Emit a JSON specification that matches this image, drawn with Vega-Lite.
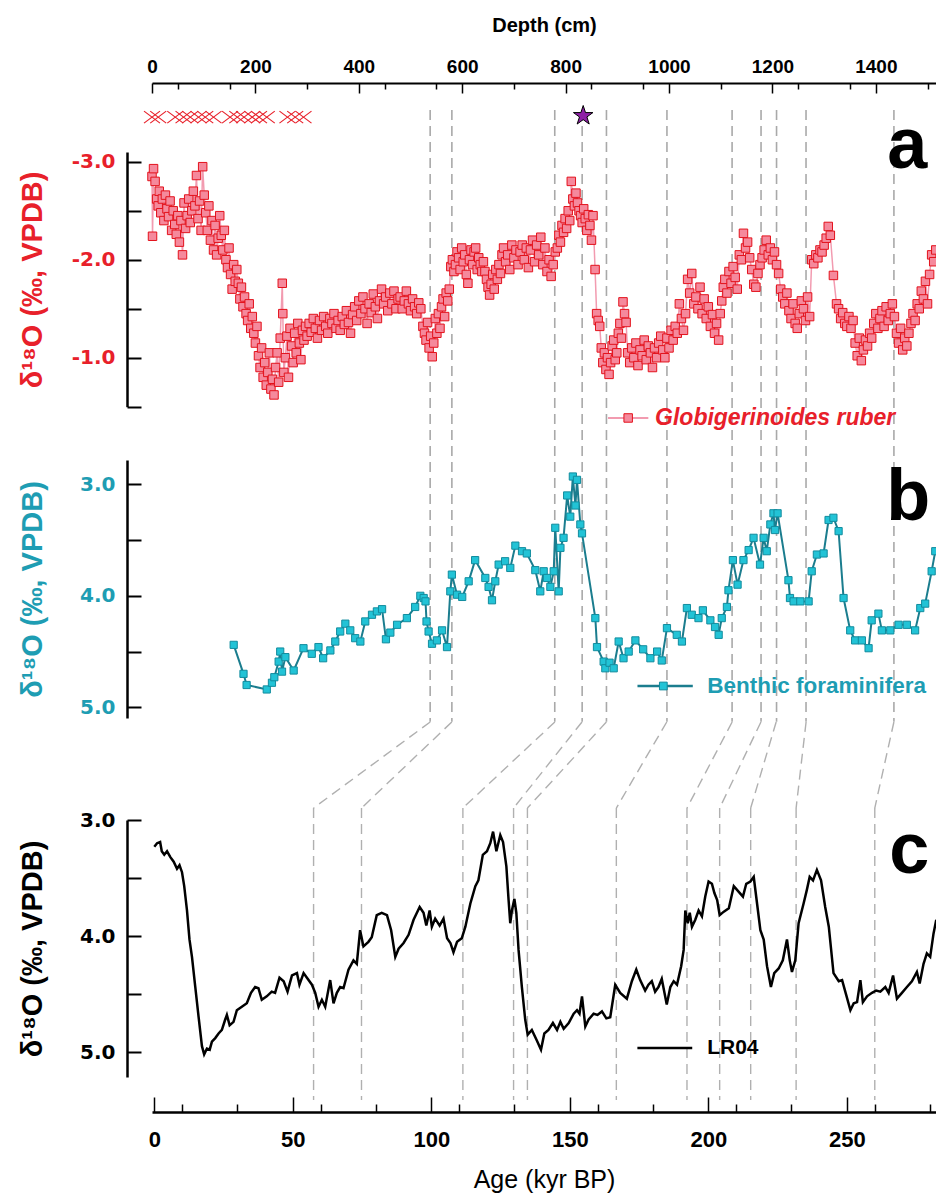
{
  "$schema": "https://vega.github.io/schema/vega-lite/v6.json",
  "width": 784,
  "height": 1029,
  "autosize": {"type": "none"},
  "padding": {"left": 152, "top": 83, "right": 0, "bottom": 81},
  "background": "white",
  "config": {"view": {"stroke": null}, "font": "Liberation Sans", "axis": {"grid": false, "labelOverlap": false, "labelBound": false, "labelFlush": false}},
  "datasets": {
    "ruber": [
      {"depth":0,"d18O":-2.85},{"depth":1,"d18O":-2.24},{"depth":3,"d18O":-2.93},{"depth":6,"d18O":-2.80},{"depth":9,"d18O":-2.62},{"depth":12,"d18O":-2.55},{"depth":14,"d18O":-2.70},{"depth":17,"d18O":-2.48},{"depth":20,"d18O":-2.62},{"depth":23,"d18O":-2.40},{"depth":26,"d18O":-2.66},{"depth":29,"d18O":-2.52},{"depth":32,"d18O":-2.44},{"depth":35,"d18O":-2.60},{"depth":38,"d18O":-2.30},{"depth":41,"d18O":-2.50},{"depth":44,"d18O":-2.36},{"depth":47,"d18O":-2.26},{"depth":50,"d18O":-2.45},{"depth":53,"d18O":-2.18},{"depth":56,"d18O":-2.40},{"depth":59,"d18O":-2.05},{"depth":62,"d18O":-2.58},{"depth":65,"d18O":-2.32},{"depth":68,"d18O":-2.45},{"depth":71,"d18O":-2.62},{"depth":74,"d18O":-2.38},{"depth":77,"d18O":-2.50},{"depth":80,"d18O":-2.70},{"depth":83,"d18O":-2.55},{"depth":86,"d18O":-2.86},{"depth":89,"d18O":-2.42},{"depth":92,"d18O":-2.60},{"depth":95,"d18O":-2.30},{"depth":98,"d18O":-2.95},{"depth":101,"d18O":-2.66},{"depth":104,"d18O":-2.48},{"depth":107,"d18O":-2.30},{"depth":110,"d18O":-2.55},{"depth":113,"d18O":-2.20},{"depth":116,"d18O":-2.40},{"depth":119,"d18O":-2.10},{"depth":122,"d18O":-2.35},{"depth":125,"d18O":-2.05},{"depth":128,"d18O":-2.22},{"depth":131,"d18O":-2.45},{"depth":134,"d18O":-2.25},{"depth":137,"d18O":-2.10},{"depth":140,"d18O":-2.30},{"depth":143,"d18O":-2.00},{"depth":146,"d18O":-1.92},{"depth":149,"d18O":-2.12},{"depth":152,"d18O":-1.85},{"depth":155,"d18O":-1.70},{"depth":158,"d18O":-1.95},{"depth":161,"d18O":-1.78},{"depth":164,"d18O":-1.90},{"depth":167,"d18O":-1.76},{"depth":170,"d18O":-1.60},{"depth":173,"d18O":-1.72},{"depth":176,"d18O":-1.52},{"depth":179,"d18O":-1.62},{"depth":182,"d18O":-1.45},{"depth":185,"d18O":-1.38},{"depth":188,"d18O":-1.55},{"depth":191,"d18O":-1.30},{"depth":194,"d18O":-1.42},{"depth":197,"d18O":-1.25},{"depth":200,"d18O":-1.15},{"depth":203,"d18O":-1.32},{"depth":206,"d18O":-1.02},{"depth":209,"d18O":-0.90},{"depth":212,"d18O":-1.10},{"depth":215,"d18O":-0.80},{"depth":218,"d18O":-0.95},{"depth":221,"d18O":-0.72},{"depth":224,"d18O":-0.85},{"depth":227,"d18O":-1.05},{"depth":230,"d18O":-0.68},{"depth":233,"d18O":-0.78},{"depth":236,"d18O":-0.62},{"depth":239,"d18O":-0.90},{"depth":242,"d18O":-1.05},{"depth":245,"d18O":-0.75},{"depth":248,"d18O":-1.20},{"depth":252,"d18O":-1.76},{"depth":253,"d18O":-1.45},{"depth":255,"d18O":-0.85},{"depth":258,"d18O":-1.00},{"depth":261,"d18O":-1.22},{"depth":264,"d18O":-0.80},{"depth":267,"d18O":-1.30},{"depth":270,"d18O":-1.12},{"depth":273,"d18O":-0.95},{"depth":276,"d18O":-1.25},{"depth":279,"d18O":-1.05},{"depth":282,"d18O":-1.35},{"depth":285,"d18O":-1.15},{"depth":288,"d18O":-0.98},{"depth":291,"d18O":-1.28},{"depth":294,"d18O":-1.18},{"depth":297,"d18O":-1.32},{"depth":300,"d18O":-1.22},{"depth":304,"d18O":-1.35},{"depth":308,"d18O":-1.26},{"depth":312,"d18O":-1.40},{"depth":316,"d18O":-1.30},{"depth":320,"d18O":-1.20},{"depth":324,"d18O":-1.38},{"depth":328,"d18O":-1.28},{"depth":332,"d18O":-1.42},{"depth":336,"d18O":-1.32},{"depth":340,"d18O":-1.25},{"depth":344,"d18O":-1.40},{"depth":348,"d18O":-1.35},{"depth":352,"d18O":-1.45},{"depth":356,"d18O":-1.30},{"depth":360,"d18O":-1.38},{"depth":364,"d18O":-1.28},{"depth":368,"d18O":-1.42},{"depth":372,"d18O":-1.34},{"depth":376,"d18O":-1.48},{"depth":380,"d18O":-1.36},{"depth":384,"d18O":-1.25},{"depth":388,"d18O":-1.44},{"depth":392,"d18O":-1.52},{"depth":396,"d18O":-1.38},{"depth":400,"d18O":-1.58},{"depth":404,"d18O":-1.45},{"depth":408,"d18O":-1.62},{"depth":412,"d18O":-1.50},{"depth":416,"d18O":-1.35},{"depth":420,"d18O":-1.55},{"depth":424,"d18O":-1.46},{"depth":428,"d18O":-1.65},{"depth":432,"d18O":-1.52},{"depth":436,"d18O":-1.40},{"depth":440,"d18O":-1.58},{"depth":444,"d18O":-1.70},{"depth":448,"d18O":-1.55},{"depth":452,"d18O":-1.62},{"depth":456,"d18O":-1.48},{"depth":460,"d18O":-1.66},{"depth":464,"d18O":-1.55},{"depth":468,"d18O":-1.68},{"depth":472,"d18O":-1.50},{"depth":476,"d18O":-1.60},{"depth":480,"d18O":-1.62},{"depth":484,"d18O":-1.50},{"depth":488,"d18O":-1.58},{"depth":492,"d18O":-1.68},{"depth":496,"d18O":-1.55},{"depth":500,"d18O":-1.48},{"depth":504,"d18O":-1.60},{"depth":508,"d18O":-1.52},{"depth":512,"d18O":-1.45},{"depth":516,"d18O":-1.56},{"depth":520,"d18O":-1.50},{"depth":524,"d18O":-1.32},{"depth":527,"d18O":-1.25},{"depth":530,"d18O":-1.18},{"depth":533,"d18O":-1.36},{"depth":536,"d18O":-1.10},{"depth":539,"d18O":-1.22},{"depth":542,"d18O":-1.01},{"depth":545,"d18O":-1.15},{"depth":548,"d18O":-1.40},{"depth":551,"d18O":-1.25},{"depth":554,"d18O":-1.45},{"depth":557,"d18O":-1.30},{"depth":560,"d18O":-1.52},{"depth":563,"d18O":-1.60},{"depth":566,"d18O":-1.42},{"depth":569,"d18O":-1.66},{"depth":572,"d18O":-1.58},{"depth":575,"d18O":-1.70},{"depth":578,"d18O":-1.93},{"depth":581,"d18O":-2.00},{"depth":584,"d18O":-1.88},{"depth":587,"d18O":-1.95},{"depth":590,"d18O":-2.08},{"depth":593,"d18O":-2.02},{"depth":596,"d18O":-1.90},{"depth":599,"d18O":-2.12},{"depth":602,"d18O":-1.98},{"depth":605,"d18O":-2.05},{"depth":608,"d18O":-1.85},{"depth":611,"d18O":-1.76},{"depth":614,"d18O":-2.00},{"depth":617,"d18O":-2.10},{"depth":620,"d18O":-1.95},{"depth":623,"d18O":-2.08},{"depth":626,"d18O":-2.12},{"depth":629,"d18O":-1.90},{"depth":632,"d18O":-2.02},{"depth":635,"d18O":-1.95},{"depth":638,"d18O":-1.88},{"depth":641,"d18O":-1.98},{"depth":644,"d18O":-1.88},{"depth":647,"d18O":-1.80},{"depth":650,"d18O":-1.72},{"depth":653,"d18O":-1.64},{"depth":656,"d18O":-1.75},{"depth":659,"d18O":-1.85},{"depth":662,"d18O":-1.70},{"depth":665,"d18O":-1.90},{"depth":668,"d18O":-1.80},{"depth":671,"d18O":-1.95},{"depth":674,"d18O":-1.86},{"depth":677,"d18O":-2.05},{"depth":680,"d18O":-2.12},{"depth":684,"d18O":-1.98},{"depth":688,"d18O":-2.05},{"depth":692,"d18O":-1.90},{"depth":696,"d18O":-2.15},{"depth":700,"d18O":-2.02},{"depth":704,"d18O":-2.10},{"depth":708,"d18O":-1.95},{"depth":712,"d18O":-2.08},{"depth":716,"d18O":-2.15},{"depth":720,"d18O":-2.00},{"depth":724,"d18O":-2.12},{"depth":728,"d18O":-1.92},{"depth":732,"d18O":-2.10},{"depth":736,"d18O":-2.20},{"depth":740,"d18O":-1.98},{"depth":744,"d18O":-2.15},{"depth":748,"d18O":-2.05},{"depth":752,"d18O":-2.23},{"depth":756,"d18O":-1.95},{"depth":760,"d18O":-2.12},{"depth":764,"d18O":-1.88},{"depth":768,"d18O":-2.00},{"depth":772,"d18O":-1.83},{"depth":776,"d18O":-1.95},{"depth":780,"d18O":-2.08},{"depth":784,"d18O":-2.12},{"depth":787,"d18O":-2.25},{"depth":790,"d18O":-2.18},{"depth":793,"d18O":-2.35},{"depth":796,"d18O":-2.28},{"depth":799,"d18O":-2.42},{"depth":802,"d18O":-2.32},{"depth":805,"d18O":-2.50},{"depth":808,"d18O":-2.40},{"depth":811,"d18O":-2.80},{"depth":814,"d18O":-2.62},{"depth":817,"d18O":-2.55},{"depth":820,"d18O":-2.68},{"depth":823,"d18O":-2.58},{"depth":826,"d18O":-2.50},{"depth":829,"d18O":-2.45},{"depth":832,"d18O":-2.38},{"depth":835,"d18O":-2.52},{"depth":838,"d18O":-2.42},{"depth":841,"d18O":-2.30},{"depth":844,"d18O":-2.46},{"depth":847,"d18O":-2.35},{"depth":850,"d18O":-2.20},{"depth":853,"d18O":-2.45},{"depth":857,"d18O":-1.90},{"depth":860,"d18O":-1.45},{"depth":863,"d18O":-1.38},{"depth":866,"d18O":-1.32},{"depth":869,"d18O":-1.10},{"depth":872,"d18O":-0.95},{"depth":875,"d18O":-1.05},{"depth":878,"d18O":-0.88},{"depth":881,"d18O":-1.00},{"depth":884,"d18O":-0.83},{"depth":887,"d18O":-0.95},{"depth":890,"d18O":-1.12},{"depth":893,"d18O":-1.18},{"depth":896,"d18O":-0.98},{"depth":899,"d18O":-1.05},{"depth":902,"d18O":-1.25},{"depth":905,"d18O":-1.35},{"depth":908,"d18O":-1.20},{"depth":911,"d18O":-1.57},{"depth":914,"d18O":-1.45},{"depth":917,"d18O":-1.36},{"depth":920,"d18O":-1.05},{"depth":924,"d18O":-0.95},{"depth":928,"d18O":-1.10},{"depth":932,"d18O":-1.00},{"depth":936,"d18O":-1.15},{"depth":940,"d18O":-0.92},{"depth":944,"d18O":-1.08},{"depth":948,"d18O":-1.02},{"depth":952,"d18O":-1.18},{"depth":956,"d18O":-0.98},{"depth":960,"d18O":-1.12},{"depth":964,"d18O":-1.05},{"depth":968,"d18O":-0.90},{"depth":972,"d18O":-1.10},{"depth":976,"d18O":-1.00},{"depth":980,"d18O":-1.15},{"depth":984,"d18O":-1.22},{"depth":988,"d18O":-1.08},{"depth":992,"d18O":-1.00},{"depth":996,"d18O":-1.20},{"depth":1000,"d18O":-1.10},{"depth":1004,"d18O":-1.28},{"depth":1008,"d18O":-1.18},{"depth":1012,"d18O":-1.32},{"depth":1016,"d18O":-1.25},{"depth":1020,"d18O":-1.55},{"depth":1024,"d18O":-1.40},{"depth":1028,"d18O":-1.28},{"depth":1032,"d18O":-1.45},{"depth":1036,"d18O":-1.80},{"depth":1040,"d18O":-1.66},{"depth":1044,"d18O":-1.86},{"depth":1048,"d18O":-1.55},{"depth":1052,"d18O":-1.62},{"depth":1056,"d18O":-1.50},{"depth":1060,"d18O":-1.72},{"depth":1064,"d18O":-1.45},{"depth":1068,"d18O":-1.60},{"depth":1072,"d18O":-1.40},{"depth":1076,"d18O":-1.52},{"depth":1080,"d18O":-1.32},{"depth":1084,"d18O":-1.44},{"depth":1088,"d18O":-1.25},{"depth":1092,"d18O":-1.35},{"depth":1096,"d18O":-1.18},{"depth":1099,"d18O":-1.45},{"depth":1102,"d18O":-1.58},{"depth":1105,"d18O":-1.72},{"depth":1108,"d18O":-1.80},{"depth":1112,"d18O":-1.66},{"depth":1116,"d18O":-1.88},{"depth":1120,"d18O":-1.76},{"depth":1124,"d18O":-1.93},{"depth":1128,"d18O":-1.82},{"depth":1132,"d18O":-1.70},{"depth":1136,"d18O":-2.05},{"depth":1140,"d18O":-2.00},{"depth":1144,"d18O":-2.27},{"depth":1148,"d18O":-2.12},{"depth":1152,"d18O":-2.18},{"depth":1156,"d18O":-2.02},{"depth":1160,"d18O":-1.90},{"depth":1164,"d18O":-1.75},{"depth":1168,"d18O":-1.72},{"depth":1172,"d18O":-1.86},{"depth":1176,"d18O":-1.95},{"depth":1180,"d18O":-2.02},{"depth":1184,"d18O":-2.10},{"depth":1188,"d18O":-2.20},{"depth":1192,"d18O":-2.05},{"depth":1196,"d18O":-2.12},{"depth":1200,"d18O":-2.00},{"depth":1204,"d18O":-2.08},{"depth":1208,"d18O":-1.95},{"depth":1212,"d18O":-1.86},{"depth":1216,"d18O":-1.70},{"depth":1220,"d18O":-1.62},{"depth":1224,"d18O":-1.55},{"depth":1228,"d18O":-1.66},{"depth":1232,"d18O":-1.48},{"depth":1236,"d18O":-1.40},{"depth":1240,"d18O":-1.55},{"depth":1244,"d18O":-1.35},{"depth":1248,"d18O":-1.30},{"depth":1252,"d18O":-1.45},{"depth":1256,"d18O":-1.58},{"depth":1260,"d18O":-1.50},{"depth":1264,"d18O":-1.38},{"depth":1268,"d18O":-1.62},{"depth":1272,"d18O":-1.42},{"depth":1276,"d18O":-2.00},{"depth":1280,"d18O":-1.96},{"depth":1284,"d18O":-2.05},{"depth":1288,"d18O":-2.02},{"depth":1292,"d18O":-2.10},{"depth":1296,"d18O":-2.08},{"depth":1300,"d18O":-2.15},{"depth":1304,"d18O":-2.22},{"depth":1308,"d18O":-2.34},{"depth":1312,"d18O":-2.25},{"depth":1318,"d18O":-1.84},{"depth":1324,"d18O":-1.55},{"depth":1328,"d18O":-1.50},{"depth":1332,"d18O":-1.40},{"depth":1336,"d18O":-1.46},{"depth":1340,"d18O":-1.35},{"depth":1344,"d18O":-1.32},{"depth":1348,"d18O":-1.42},{"depth":1352,"d18O":-1.30},{"depth":1356,"d18O":-1.38},{"depth":1360,"d18O":-1.15},{"depth":1364,"d18O":-1.02},{"depth":1368,"d18O":-1.20},{"depth":1372,"d18O":-0.97},{"depth":1376,"d18O":-1.08},{"depth":1380,"d18O":-1.18},{"depth":1384,"d18O":-1.12},{"depth":1388,"d18O":-1.25},{"depth":1392,"d18O":-1.20},{"depth":1396,"d18O":-1.35},{"depth":1400,"d18O":-1.45},{"depth":1404,"d18O":-1.30},{"depth":1408,"d18O":-1.40},{"depth":1412,"d18O":-1.48},{"depth":1416,"d18O":-1.32},{"depth":1420,"d18O":-1.52},{"depth":1424,"d18O":-1.38},{"depth":1428,"d18O":-1.45},{"depth":1432,"d18O":-1.55},{"depth":1436,"d18O":-1.42},{"depth":1440,"d18O":-1.25},{"depth":1444,"d18O":-1.15},{"depth":1448,"d18O":-1.30},{"depth":1452,"d18O":-1.08},{"depth":1456,"d18O":-1.20},{"depth":1460,"d18O":-1.12},{"depth":1464,"d18O":-1.25},{"depth":1468,"d18O":-1.35},{"depth":1472,"d18O":-1.45},{"depth":1476,"d18O":-1.38},{"depth":1480,"d18O":-1.55},{"depth":1484,"d18O":-1.50},{"depth":1488,"d18O":-1.68},{"depth":1492,"d18O":-1.60},{"depth":1496,"d18O":-1.78},{"depth":1500,"d18O":-1.55},{"depth":1504,"d18O":-1.85},{"depth":1508,"d18O":-2.05},{"depth":1512,"d18O":-1.98},{"depth":1516,"d18O":-2.10}
    ],
    "benthic": [
      {"depth":158,"d18O":4.44},{"depth":177,"d18O":4.70},{"depth":183,"d18O":4.80},{"depth":222,"d18O":4.84},{"depth":232,"d18O":4.78},{"depth":236.6,"d18O":4.73},{"depth":245,"d18O":4.59},{"depth":248,"d18O":4.50},{"depth":251.5,"d18O":4.68},{"depth":258,"d18O":4.55},{"depth":274,"d18O":4.67},{"depth":293,"d18O":4.47},{"depth":309,"d18O":4.52},{"depth":322,"d18O":4.46},{"depth":331,"d18O":4.56},{"depth":345,"d18O":4.49},{"depth":354.5,"d18O":4.41},{"depth":364,"d18O":4.32},{"depth":374,"d18O":4.25},{"depth":383.5,"d18O":4.31},{"depth":393,"d18O":4.38},{"depth":403,"d18O":4.41},{"depth":412.5,"d18O":4.23},{"depth":425.5,"d18O":4.17},{"depth":435,"d18O":4.14},{"depth":445,"d18O":4.12},{"depth":452.5,"d18O":4.39},{"depth":461,"d18O":4.33},{"depth":474,"d18O":4.26},{"depth":493,"d18O":4.20},{"depth":509,"d18O":4.10},{"depth":519,"d18O":4.00},{"depth":525.5,"d18O":4.02},{"depth":529,"d18O":4.05},{"depth":531,"d18O":4.23},{"depth":535,"d18O":4.32},{"depth":541.6,"d18O":4.43},{"depth":551,"d18O":4.40},{"depth":561,"d18O":4.31},{"depth":570.6,"d18O":4.46},{"depth":577,"d18O":3.96},{"depth":580,"d18O":3.81},{"depth":590,"d18O":3.99},{"depth":600,"d18O":4.01},{"depth":612.5,"d18O":3.87},{"depth":625,"d18O":3.68},{"depth":644.7,"d18O":3.84},{"depth":651,"d18O":3.92},{"depth":657.6,"d18O":4.04},{"depth":664,"d18O":3.87},{"depth":670.5,"d18O":3.72},{"depth":683,"d18O":3.69},{"depth":693,"d18O":3.75},{"depth":702.8,"d18O":3.55},{"depth":715.7,"d18O":3.60},{"depth":725,"d18O":3.62},{"depth":741.4,"d18O":3.77},{"depth":751,"d18O":3.96},{"depth":757.6,"d18O":3.78},{"depth":764,"d18O":3.84},{"depth":770.5,"d18O":3.92},{"depth":777,"d18O":3.78},{"depth":780,"d18O":3.39},{"depth":786.6,"d18O":3.96},{"depth":790,"d18O":3.57},{"depth":796,"d18O":3.48},{"depth":803,"d18O":3.10},{"depth":809,"d18O":3.29},{"depth":814,"d18O":2.93},{"depth":819,"d18O":3.19},{"depth":822,"d18O":2.96},{"depth":828.5,"d18O":3.36},{"depth":831.7,"d18O":3.44},{"depth":857.5,"d18O":4.20},{"depth":860.7,"d18O":4.46},{"depth":873.6,"d18O":4.59},{"depth":876.8,"d18O":4.65},{"depth":885,"d18O":4.60},{"depth":893,"d18O":4.65},{"depth":902.6,"d18O":4.41},{"depth":912,"d18O":4.56},{"depth":922,"d18O":4.50},{"depth":935,"d18O":4.40},{"depth":950,"d18O":4.48},{"depth":964,"d18O":4.56},{"depth":977,"d18O":4.50},{"depth":986,"d18O":4.58},{"depth":996,"d18O":4.29},{"depth":1015,"d18O":4.35},{"depth":1025,"d18O":4.41},{"depth":1034.6,"d18O":4.11},{"depth":1044,"d18O":4.17},{"depth":1057,"d18O":4.20},{"depth":1065.5,"d18O":4.13},{"depth":1080,"d18O":4.22},{"depth":1089,"d18O":4.28},{"depth":1096,"d18O":4.35},{"depth":1102,"d18O":4.20},{"depth":1112,"d18O":4.10},{"depth":1115,"d18O":3.95},{"depth":1123.5,"d18O":3.68},{"depth":1132.6,"d18O":3.90},{"depth":1144,"d18O":3.68},{"depth":1154,"d18O":3.59},{"depth":1163.5,"d18O":3.48},{"depth":1176,"d18O":3.72},{"depth":1183,"d18O":3.48},{"depth":1189,"d18O":3.60},{"depth":1196,"d18O":3.36},{"depth":1202,"d18O":3.26},{"depth":1205,"d18O":3.41},{"depth":1210,"d18O":3.26},{"depth":1231,"d18O":3.86},{"depth":1234,"d18O":4.02},{"depth":1241,"d18O":4.05},{"depth":1254,"d18O":4.05},{"depth":1270,"d18O":4.05},{"depth":1276,"d18O":3.78},{"depth":1286,"d18O":3.63},{"depth":1299,"d18O":3.62},{"depth":1308.6,"d18O":3.32},{"depth":1318,"d18O":3.30},{"depth":1328,"d18O":3.42},{"depth":1337.6,"d18O":4.02},{"depth":1350.5,"d18O":4.31},{"depth":1360,"d18O":4.40},{"depth":1373,"d18O":4.40},{"depth":1386,"d18O":4.47},{"depth":1392,"d18O":4.22},{"depth":1405,"d18O":4.16},{"depth":1411.7,"d18O":4.31},{"depth":1428,"d18O":4.31},{"depth":1444,"d18O":4.26},{"depth":1460,"d18O":4.26},{"depth":1476,"d18O":4.31},{"depth":1486,"d18O":4.11},{"depth":1495.5,"d18O":4.07},{"depth":1508,"d18O":3.78},{"depth":1515,"d18O":3.60}
    ],
    "lr04": [
      {"age":0,"d18O":3.23},{"age":1,"d18O":3.20},{"age":2.1,"d18O":3.19},{"age":2.7,"d18O":3.27},{"age":3.6,"d18O":3.30},{"age":4.6,"d18O":3.27},{"age":5.8,"d18O":3.32},{"age":7,"d18O":3.36},{"age":8.2,"d18O":3.42},{"age":9.1,"d18O":3.39},{"age":10,"d18O":3.45},{"age":10.8,"d18O":3.57},{"age":11.8,"d18O":3.78},{"age":12.7,"d18O":4.03},{"age":13.6,"d18O":4.18},{"age":14.8,"d18O":4.44},{"age":16,"d18O":4.70},{"age":17.2,"d18O":4.95},{"age":18,"d18O":5.02},{"age":19,"d18O":4.97},{"age":20,"d18O":4.98},{"age":20.8,"d18O":4.91},{"age":22,"d18O":4.88},{"age":23.2,"d18O":4.84},{"age":24.4,"d18O":4.81},{"age":25.6,"d18O":4.72},{"age":26.2,"d18O":4.68},{"age":27.2,"d18O":4.77},{"age":28.6,"d18O":4.74},{"age":29.8,"d18O":4.64},{"age":31.6,"d18O":4.61},{"age":33.4,"d18O":4.58},{"age":34.9,"d18O":4.49},{"age":36.4,"d18O":4.44},{"age":37.6,"d18O":4.45},{"age":38.8,"d18O":4.55},{"age":40.6,"d18O":4.52},{"age":42.4,"d18O":4.48},{"age":43.6,"d18O":4.49},{"age":45.2,"d18O":4.36},{"age":46.7,"d18O":4.39},{"age":48.1,"d18O":4.48},{"age":49.7,"d18O":4.34},{"age":51.5,"d18O":4.32},{"age":52.4,"d18O":4.42},{"age":53.9,"d18O":4.32},{"age":55.1,"d18O":4.36},{"age":56.9,"d18O":4.42},{"age":58.1,"d18O":4.49},{"age":59.3,"d18O":4.61},{"age":60.5,"d18O":4.55},{"age":61.7,"d18O":4.61},{"age":63.5,"d18O":4.38},{"age":64.7,"d18O":4.58},{"age":65.9,"d18O":4.49},{"age":67.1,"d18O":4.44},{"age":68.3,"d18O":4.45},{"age":70.1,"d18O":4.29},{"age":71.9,"d18O":4.21},{"age":73.1,"d18O":4.24},{"age":74.3,"d18O":3.95},{"age":75.5,"d18O":4.09},{"age":77.3,"d18O":4.05},{"age":78.5,"d18O":4.01},{"age":80.3,"d18O":3.82},{"age":82.1,"d18O":3.80},{"age":84,"d18O":3.82},{"age":85.5,"d18O":3.95},{"age":87,"d18O":4.18},{"age":88.2,"d18O":4.11},{"age":90,"d18O":4.06},{"age":91.8,"d18O":3.99},{"age":93.6,"d18O":3.86},{"age":95.8,"d18O":3.75},{"age":97.2,"d18O":3.80},{"age":98.2,"d18O":3.91},{"age":99.4,"d18O":3.78},{"age":100.2,"d18O":3.92},{"age":101.4,"d18O":3.85},{"age":103,"d18O":3.91},{"age":104.4,"d18O":3.85},{"age":105.7,"d18O":4.02},{"age":106.9,"d18O":4.06},{"age":108,"d18O":4.14},{"age":109.3,"d18O":4.05},{"age":111,"d18O":4.02},{"age":112.3,"d18O":3.92},{"age":114.1,"d18O":3.72},{"age":115.9,"d18O":3.57},{"age":117,"d18O":3.52},{"age":118.6,"d18O":3.30},{"age":120.1,"d18O":3.27},{"age":121.3,"d18O":3.20},{"age":122.3,"d18O":3.10},{"age":123.5,"d18O":3.27},{"age":124.9,"d18O":3.13},{"age":125.9,"d18O":3.19},{"age":127.1,"d18O":3.40},{"age":127.9,"d18O":3.69},{"age":128.5,"d18O":3.89},{"age":129.1,"d18O":3.78},{"age":130,"d18O":3.68},{"age":130.7,"d18O":3.80},{"age":131.5,"d18O":4.12},{"age":132.7,"d18O":4.44},{"age":133.9,"d18O":4.72},{"age":134.8,"d18O":4.85},{"age":136.3,"d18O":4.81},{"age":138.1,"d18O":4.90},{"age":139.6,"d18O":4.98},{"age":140.8,"d18O":4.84},{"age":142.3,"d18O":4.81},{"age":143.9,"d18O":4.75},{"age":145.4,"d18O":4.81},{"age":146.6,"d18O":4.74},{"age":147.8,"d18O":4.80},{"age":149.6,"d18O":4.75},{"age":151.4,"d18O":4.67},{"age":152.6,"d18O":4.64},{"age":153.5,"d18O":4.67},{"age":154.4,"d18O":4.52},{"age":155.6,"d18O":4.78},{"age":156.8,"d18O":4.72},{"age":158.6,"d18O":4.67},{"age":160,"d18O":4.68},{"age":161.6,"d18O":4.65},{"age":163.2,"d18O":4.71},{"age":164.6,"d18O":4.70},{"age":166.4,"d18O":4.42},{"age":168.2,"d18O":4.49},{"age":170.6,"d18O":4.54},{"age":172.4,"d18O":4.39},{"age":174,"d18O":4.29},{"age":175.4,"d18O":4.38},{"age":177.2,"d18O":4.47},{"age":178.4,"d18O":4.42},{"age":179.6,"d18O":4.39},{"age":180.8,"d18O":4.48},{"age":182,"d18O":4.44},{"age":183.2,"d18O":4.37},{"age":185,"d18O":4.59},{"age":186.3,"d18O":4.44},{"age":187.5,"d18O":4.39},{"age":188.7,"d18O":4.42},{"age":190.2,"d18O":4.26},{"age":191.1,"d18O":4.12},{"age":191.7,"d18O":3.78},{"age":192.6,"d18O":3.89},{"age":193.3,"d18O":3.80},{"age":194.1,"d18O":3.92},{"age":195.3,"d18O":3.86},{"age":196.5,"d18O":3.78},{"age":197.7,"d18O":3.83},{"age":198.9,"d18O":3.66},{"age":200.1,"d18O":3.53},{"age":201.3,"d18O":3.55},{"age":202.2,"d18O":3.63},{"age":203.2,"d18O":3.69},{"age":204.1,"d18O":3.82},{"age":205.6,"d18O":3.79},{"age":207.4,"d18O":3.76},{"age":209.2,"d18O":3.57},{"age":211,"d18O":3.62},{"age":212.5,"d18O":3.66},{"age":213.7,"d18O":3.55},{"age":215.2,"d18O":3.53},{"age":216.4,"d18O":3.49},{"age":217.6,"d18O":3.72},{"age":218.8,"d18O":3.95},{"age":220,"d18O":4.03},{"age":221.2,"d18O":4.26},{"age":222.6,"d18O":4.44},{"age":223.8,"d18O":4.32},{"age":225.4,"d18O":4.28},{"age":226.9,"d18O":4.21},{"age":228.4,"d18O":4.03},{"age":229.4,"d18O":4.21},{"age":230.2,"d18O":4.31},{"age":231.4,"d18O":4.21},{"age":232.6,"d18O":3.89},{"age":234.4,"d18O":3.72},{"age":235.6,"d18O":3.60},{"age":236.6,"d18O":3.49},{"age":237.8,"d18O":3.52},{"age":239.2,"d18O":3.43},{"age":240.7,"d18O":3.52},{"age":242.2,"d18O":3.75},{"age":243.5,"d18O":3.92},{"age":245.2,"d18O":4.32},{"age":247.1,"d18O":4.39},{"age":248.3,"d18O":4.38},{"age":249.8,"d18O":4.51},{"age":251.3,"d18O":4.64},{"age":252.5,"d18O":4.58},{"age":253.7,"d18O":4.57},{"age":254.9,"d18O":4.38},{"age":255.8,"d18O":4.57},{"age":257.3,"d18O":4.52},{"age":259.1,"d18O":4.49},{"age":260.6,"d18O":4.47},{"age":262.1,"d18O":4.48},{"age":263.9,"d18O":4.44},{"age":265.1,"d18O":4.49},{"age":266.7,"d18O":4.34},{"age":268.1,"d18O":4.54},{"age":269.9,"d18O":4.49},{"age":271.7,"d18O":4.44},{"age":273.5,"d18O":4.39},{"age":275.3,"d18O":4.31},{"age":276.3,"d18O":4.41},{"age":277.7,"d18O":4.24},{"age":278.9,"d18O":4.15},{"age":280.1,"d18O":4.18},{"age":281.3,"d18O":3.98},{"age":282.3,"d18O":3.86}
    ],
    "ties": [
      {"depth":538,"age":57.5,"age_top":99.6},{"depth":580,"age":74.8,"age_top":107.4},{"depth":779,"age":111.4,"age_top":144.6},{"depth":832,"age":129.7,"age_top":154.4},{"depth":879,"age":134.7,"age_top":163.2},{"depth":996,"age":166.8,"age_top":185.0},{"depth":1122,"age":192.3,"age_top":208.6},{"depth":1178,"age":204.1,"age_top":219.0},{"depth":1208,"age":215.3,"age_top":224.5},{"depth":1265,"age":231.7,"age_top":235.3},{"depth":1435,"age":260.1,"age_top":267.0}
    ],
    "dates": [
      {"depth":0},{"depth":12},{"depth":45},{"depth":61},{"depth":74},{"depth":90},{"depth":103},{"depth":119},{"depth":151},{"depth":165},{"depth":178},{"depth":194},{"depth":207},{"depth":222},{"depth":262},{"depth":277},{"depth":293}
    ],
    "events": [{"event": "star", "depth": 834}]
  },
  "layer": [
    {
      "layer": [
        {
          "data": {"name": "ties"},
          "mark": {"type": "rule", "color": "#a9a9a9", "strokeWidth": 1.6, "strokeDash": [10, 6]},
          "encoding": {
            "x": {"field": "depth", "type": "quantitative", "title": "Depth (cm)",
              "scale": {"domain": [0, 1516.4], "nice": false, "zero": false},
              "axis": {"orient": "top", "values": [0,200,400,600,800,1000,1200,1400], "format": "d", "title": "Depth (cm)",
                "tickSize": -10, "tickColor": "black", "tickWidth": 1.5, "domainColor": "black", "domainWidth": 2,
                "labelFont": "Liberation Sans", "labelFontWeight": "bold", "labelFontSize": 19, "labelColor": "black",
                "labelPadding": 17, "labelFlush": false, "labelOverlap": false, "labelBound": false,
                "titleFont": "Liberation Sans", "titleFontSize": 20, "titleFontWeight": "bold", "titleColor": "black",
                "titleY": -52, "titleBaseline": "alphabetic"}},
            "y": {"datum": -3.528, "type": "quantitative", "title": "δ¹⁸O (‰, VPDB)",
              "scale": {"domain": [-3.1, -0.5], "range": [69, 323.7], "nice": false, "zero": false},
              "axis": {"orient": "left", "offset": 25, "values": [-3, -2.5, -2, -1.5, -1, -0.5], "title": "δ¹⁸O (‰, VPDB)",
                "labelExpr": "datum.value % 1 == 0 ? replace(format(datum.value, '.1f'), '\u2212', '-') : ''",
                "tickSize": -14, "tickWidth": 2, "tickColor": "black", "domainColor": "black", "domainWidth": 2.5,
                "labelFont": "DejaVu Sans", "labelFontWeight": "bold", "labelFontSize": 20, "labelColor": "#e8202a",
                "labelPadding": 26, "labelOverlap": false, "labelBound": false, "labelFlush": false,
                "titleFont": "Liberation Sans", "titleFontSize": 29, "titleFontWeight": "bold", "titleColor": "#e8202a",
                "titleX": -80}},
            "y2": {"datum": 2.717}
          }
        },
        {
          "data": {"name": "ruber"},
          "mark": {"type": "line", "color": "#f29bb0", "strokeWidth": 1.5},
          "encoding": {
            "x": {"field": "depth", "type": "quantitative", "title": "Depth (cm)"},
            "y": {"field": "d18O", "type": "quantitative", "title": "δ¹⁸O (‰, VPDB)"}
          }
        },
        {
          "data": {"name": "ruber"},
          "mark": {"type": "point", "shape": "square", "filled": true, "fill": "#f5899c", "stroke": "#e3121c", "strokeWidth": 1, "size": 72, "opacity": 1},
          "encoding": {
            "x": {"field": "depth", "type": "quantitative", "title": "Depth (cm)"},
            "y": {"field": "d18O", "type": "quantitative", "title": "δ¹⁸O (‰, VPDB)"}
          }
        },
        {
          "data": {"name": "dates"},
          "mark": {"type": "point", "shape": "M-1,-0.75L1,0.75M-1,0.75L1,-0.75", "filled": false, "stroke": "#e8202a", "strokeWidth": 1.2, "size": 256, "opacity": 1},
          "encoding": {
            "x": {"field": "depth", "type": "quantitative", "title": "Depth (cm)"},
            "y": {"datum": -3.456, "type": "quantitative", "title": "δ¹⁸O (‰, VPDB)"}
          }
        },
        {
          "data": {"name": "events"},
          "mark": {"type": "point", "shape": "M0,-1L0.2245,-0.309L0.951,-0.309L0.363,0.118L0.588,0.809L0,0.382L-0.588,0.809L-0.363,0.118L-0.951,-0.309L-0.2245,-0.309Z", "filled": true, "fill": "#8e1fa6", "stroke": "black", "strokeWidth": 1, "size": 420, "opacity": 1},
          "encoding": {
            "x": {"field": "depth", "type": "quantitative", "title": "Depth (cm)"},
            "y": {"datum": -3.47, "type": "quantitative", "title": "δ¹⁸O (‰, VPDB)"}
          }
        },
        {
          "data": {"values": [{"panel": "a"}]},
          "mark": {"type": "text", "font": "Liberation Sans", "fontWeight": "bold", "fontSize": 72, "align": "left", "baseline": "alphabetic", "color": "black"},
          "encoding": {
            "text": {"field": "panel"},
            "x": {"datum": 1422, "type": "quantitative", "title": "Depth (cm)"},
            "y": {"datum": -2.94, "type": "quantitative", "title": "δ¹⁸O (‰, VPDB)"}
          }
        },
        {
          "data": {"values": [{"legend": "ruber line"}]},
          "mark": {"type": "rule", "color": "#f29bb0", "strokeWidth": 2},
          "encoding": {
            "x": {"datum": 882, "type": "quantitative", "title": "Depth (cm)"},
            "x2": {"datum": 960},
            "y": {"datum": -0.385, "type": "quantitative", "title": "δ¹⁸O (‰, VPDB)"}
          }
        },
        {
          "data": {"values": [{"legend": "ruber symbol"}]},
          "mark": {"type": "point", "shape": "square", "filled": true, "fill": "#f5899c", "stroke": "#e3121c", "strokeWidth": 1, "size": 72, "opacity": 1},
          "encoding": {
            "x": {"datum": 921, "type": "quantitative", "title": "Depth (cm)"},
            "y": {"datum": -0.385, "type": "quantitative", "title": "δ¹⁸O (‰, VPDB)"}
          }
        },
        {
          "data": {"values": [{"legend": "Globigerinoides ruber"}]},
          "mark": {"type": "text", "font": "Liberation Sans", "fontWeight": "bold", "fontStyle": "italic", "fontSize": 23, "align": "left", "baseline": "middle", "color": "#e8202a"},
          "encoding": {
            "text": {"field": "legend"},
            "x": {"datum": 973, "type": "quantitative", "title": "Depth (cm)"},
            "y": {"datum": -0.385, "type": "quantitative", "title": "δ¹⁸O (‰, VPDB)"}
          }
        }
      ]
    },
    {
      "layer": [
        {
          "data": {"name": "benthic"},
          "mark": {"type": "line", "color": "#1b7d8e", "strokeWidth": 2},
          "encoding": {
            "x": {"field": "depth", "type": "quantitative", "title": null,
              "scale": {"domain": [0, 1516.4], "nice": false, "zero": false},
              "axis": {"orient": "top", "values": [50,100,150,250,300,350,450,500,550,650,700,750,850,900,950,1050,1100,1150,1250,1300,1350,1450,1500],
                "labels": false, "domain": false, "tickSize": -6, "tickColor": "black", "tickWidth": 1.5, "title": null}},
            "y": {"field": "d18O", "type": "quantitative", "title": "δ¹⁸O (‰, VPDB)",
              "scale": {"domain": [2.782, 5.096], "range": [377, 635], "nice": false, "zero": false},
              "axis": {"orient": "left", "offset": 25, "values": [3, 3.5, 4, 4.5, 5], "title": "δ¹⁸O (‰, VPDB)",
                "labelExpr": "datum.value % 1 == 0 ? format(datum.value, '.1f') : ''",
                "tickSize": -14, "tickWidth": 2, "tickColor": "black", "domainColor": "black", "domainWidth": 2.5,
                "labelFont": "DejaVu Sans", "labelFontWeight": "bold", "labelFontSize": 20, "labelColor": "#1e9db3",
                "labelPadding": 26, "labelOverlap": false, "labelBound": false, "labelFlush": false,
                "titleFont": "Liberation Sans", "titleFontSize": 29, "titleFontWeight": "bold", "titleColor": "#1e9db3",
                "titleX": -80}}
          }
        },
        {
          "data": {"name": "benthic"},
          "mark": {"type": "point", "shape": "square", "filled": true, "fill": "#22c3d6", "stroke": "#128c9e", "strokeWidth": 1, "size": 52, "opacity": 1},
          "encoding": {
            "x": {"field": "depth", "type": "quantitative", "title": null},
            "y": {"field": "d18O", "type": "quantitative", "title": "δ¹⁸O (‰, VPDB)"}
          }
        },
        {
          "data": {"values": [{"panel": "b"}]},
          "mark": {"type": "text", "font": "Liberation Sans", "fontWeight": "bold", "fontSize": 72, "align": "left", "baseline": "alphabetic", "color": "black"},
          "encoding": {
            "text": {"field": "panel"},
            "x": {"datum": 1420, "type": "quantitative", "title": null},
            "y": {"datum": 3.32, "type": "quantitative", "title": "δ¹⁸O (‰, VPDB)"}
          }
        },
        {
          "data": {"values": [{"legend": "benthic line"}]},
          "mark": {"type": "rule", "color": "#1b7d8e", "strokeWidth": 2.5},
          "encoding": {
            "x": {"datum": 939, "type": "quantitative", "title": null},
            "x2": {"datum": 1046},
            "y": {"datum": 4.809, "type": "quantitative", "title": "δ¹⁸O (‰, VPDB)"}
          }
        },
        {
          "data": {"values": [{"legend": "benthic symbol"}]},
          "mark": {"type": "point", "shape": "square", "filled": true, "fill": "#22c3d6", "stroke": "#128c9e", "strokeWidth": 1, "size": 60, "opacity": 1},
          "encoding": {
            "x": {"datum": 989, "type": "quantitative", "title": null},
            "y": {"datum": 4.809, "type": "quantitative", "title": "δ¹⁸O (‰, VPDB)"}
          }
        },
        {
          "data": {"values": [{"legend": "Benthic foraminifera"}]},
          "mark": {"type": "text", "font": "Liberation Sans", "fontWeight": "bold", "fontSize": 22.5, "align": "left", "baseline": "middle", "color": "#1e9db3"},
          "encoding": {
            "text": {"field": "legend"},
            "x": {"datum": 1074, "type": "quantitative", "title": null},
            "y": {"datum": 4.809, "type": "quantitative", "title": "δ¹⁸O (‰, VPDB)"}
          }
        }
      ]
    },
    {
      "layer": [
        {
          "data": {"name": "ties"},
          "mark": {"type": "rule", "color": "#b0b0b0", "strokeWidth": 1.4, "strokeDash": [10, 6]},
          "encoding": {
            "x": {"field": "age", "type": "quantitative", "title": null,
              "scale": {"domain": [-0.83, 282.2], "nice": false, "zero": false},
              "axis": {"orient": "bottom", "values": [10,20,30,40,60,70,80,90,110,120,130,140,160,170,180,190,210,220,230,240,260,270,280],
                "labels": false, "domain": false, "tickSize": -8, "tickColor": "black", "tickWidth": 1.5, "title": null}},
            "y": {"datum": 2.897, "type": "quantitative", "title": "δ¹⁸O (‰, VPDB)",
              "scale": {"domain": [3.0, 5.2155], "range": [737, 994], "nice": false, "zero": false},
              "axis": {"orient": "left", "offset": 25, "values": [3, 3.5, 4, 4.5, 5], "title": "δ¹⁸O (‰, VPDB)",
                "labelExpr": "datum.value % 1 == 0 ? format(datum.value, '.1f') : ''",
                "tickSize": -14, "tickWidth": 2, "tickColor": "black", "domainColor": "black", "domainWidth": 2.5,
                "labelFont": "DejaVu Sans", "labelFontWeight": "bold", "labelFontSize": 20, "labelColor": "black",
                "labelPadding": 26, "labelOverlap": false, "labelBound": false, "labelFlush": false,
                "titleFont": "Liberation Sans", "titleFontSize": 29, "titleFontWeight": "bold", "titleColor": "black",
                "titleX": -80}},
            "y2": {"datum": 5.414}
          }
        },
        {
          "data": {"name": "ties"},
          "mark": {"type": "rule", "color": "#b0b0b0", "strokeWidth": 1.4, "strokeDash": [10, 6]},
          "encoding": {
            "x": {"field": "age_top", "type": "quantitative", "title": null},
            "x2": {"field": "age"},
            "y": {"datum": 2.155, "type": "quantitative", "title": "δ¹⁸O (‰, VPDB)"},
            "y2": {"datum": 2.897}
          }
        }
      ]
    },
    {
      "layer": [
        {
          "data": {"name": "lr04"},
          "mark": {"type": "line", "color": "black", "strokeWidth": 2.5},
          "encoding": {
            "x": {"field": "age", "type": "quantitative", "title": "Age (kyr BP)",
              "scale": {"domain": [-0.83, 282.2], "nice": false, "zero": false},
              "axis": {"orient": "bottom", "values": [0,50,100,150,200,250], "format": "d", "title": "Age (kyr BP)",
                "tickSize": -15, "tickColor": "black", "tickWidth": 1.5, "domainColor": "black", "domainWidth": 2.5,
                "labelFont": "Liberation Sans", "labelFontWeight": "bold", "labelFontSize": 22, "labelColor": "black",
                "labelPadding": 32, "labelFlush": false, "labelOverlap": false, "labelBound": false,
                "titleFont": "Liberation Sans", "titleFontSize": 25, "titleFontWeight": "normal", "titleColor": "black",
                "titleY": 75, "titleBaseline": "alphabetic"}},
            "y": {"field": "d18O", "type": "quantitative", "title": null,
              "scale": {"domain": [3.0, 5.2155], "range": [737, 994], "nice": false, "zero": false},
              "axis": null}
          }
        },
        {
          "data": {"values": [{"panel": "c"}]},
          "mark": {"type": "text", "font": "Liberation Sans", "fontWeight": "bold", "fontSize": 72, "align": "left", "baseline": "alphabetic", "color": "black"},
          "encoding": {
            "text": {"field": "panel"},
            "x": {"datum": 265.3, "type": "quantitative", "title": "Age (kyr BP)"},
            "y": {"datum": 3.46, "type": "quantitative", "title": null}
          }
        },
        {
          "data": {"values": [{"legend": "LR04 line"}]},
          "mark": {"type": "rule", "color": "black", "strokeWidth": 2.5},
          "encoding": {
            "x": {"datum": 174.4, "type": "quantitative", "title": "Age (kyr BP)"},
            "x2": {"datum": 194.2},
            "y": {"datum": 4.966, "type": "quantitative", "title": null}
          }
        },
        {
          "data": {"values": [{"legend": "LR04"}]},
          "mark": {"type": "text", "font": "Liberation Sans", "fontWeight": "bold", "fontSize": 21, "align": "left", "baseline": "middle", "color": "black"},
          "encoding": {
            "text": {"field": "legend"},
            "x": {"datum": 199.6, "type": "quantitative", "title": "Age (kyr BP)"},
            "y": {"datum": 4.966, "type": "quantitative", "title": null}
          }
        }
      ]
    }
  ],
  "resolve": {"scale": {"x": "independent", "y": "independent"}}
}
